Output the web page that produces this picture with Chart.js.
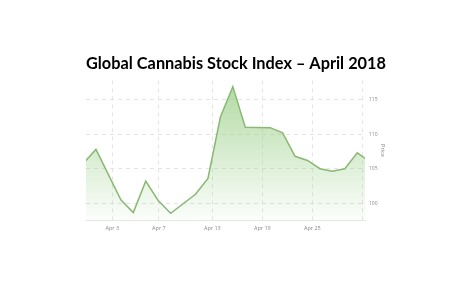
<!DOCTYPE html>
<html lang="en">
<head>
  <meta charset="UTF-8">
  <title>Global Cannabis Stock Index</title>
  <script src="https://cdn.jsdelivr.net/npm/chart.js"></script>
  <style>
    html, body { margin: 0; padding: 0; background: #fff; }
    #wrap { width: 472px; height: 298px; }
  </style>
</head>
<body>
  <div id="wrap"><canvas id="indexChart" width="472" height="298"></canvas></div>

  <script>
    // trading sessions (index along the x axis) and closing index values
    const session = [-1, 0, 2, 3, 4, 5, 6, 8, 9, 10, 11, 12, 14, 15, 16, 17, 18, 19, 20, 21, 22];
    const price = [105.8, 107.8, 100.5, 98.65, 103.2, 100.4, 98.55, 101.3, 103.6, 112.5, 116.9,
                   111.0, 110.95, 110.2, 106.8, 106.2, 105.0, 104.65, 105.0, 107.3, 106.0];

    // date ticks along the bottom (position in sessions)
    const dateTickAt = [1.31, 5.06, 9.35, 13.37, 17.39, 21.41];
    const dateTickLabel = ['Apr 3', 'Apr 7', 'Apr 13', 'Apr 19', 'Apr 25', ''];

    const points = session.map((s, i) => ({ x: s, y: price[i] }));

    new Chart(document.getElementById('indexChart'), {
      type: 'line',
      data: {
        datasets: [{
          label: 'Price',
          data: points,
          borderColor: 'rgb(136,184,116)',
          borderWidth: 1.5,
          pointRadius: 0,
          tension: 0,
          fill: 'start',
          backgroundColor: ctx => {
            const area = ctx.chart.chartArea;
            if (!area) return 'rgba(150,205,130,0.3)';
            const g = ctx.chart.ctx.createLinearGradient(0, area.top, 0, area.bottom);
            g.addColorStop(0, 'rgba(150,205,130,0.75)');
            g.addColorStop(1, 'rgba(150,205,130,0.03)');
            return g;
          }
        }]
      },
      options: {
        responsive: false,
        animation: false,
        layout: { padding: { left: 86, right: 86, top: 0, bottom: 57.5 } },
        plugins: {
          legend: { display: false },
          tooltip: { enabled: false },
          title: {
            display: true,
            text: 'Global Cannabis Stock Index – April 2018',
            color: '#000',
            font: { family: 'Lato', size: 17, weight: 'bold' },
            padding: { top: 53, bottom: 7 }
          }
        },
        scales: {
          x: {
            type: 'linear',
            min: -0.8,
            max: 21.62,
            afterBuildTicks: axis => {
              axis.ticks = dateTickAt.map(v => ({ value: v }));
            },
            afterFit: axis => { axis.height = 20; },
            ticks: {
              autoSkip: false,
              maxRotation: 0,
              padding: 5,
              color: '#888',
              font: { family: 'Open Sans', size: 5.5 },
              callback: (v, i) => dateTickLabel[i]
            },
            grid: {
              drawTicks: false,
              color: '#e4e4e4',
              lineWidth: 1
            },
            border: { display: true, color: '#e6e6e6', dash: [4, 4] }
          },
          y: {
            position: 'right',
            min: 97.5,
            max: 117.8,
            afterFit: axis => { axis.width = 21; },
            ticks: {
              stepSize: 5,
              includeBounds: false,
              padding: 4,
              color: '#888',
              font: { family: 'Open Sans', size: 5 }
            },
            grid: {
              drawTicks: false,
              color: '#e4e4e4',
              lineWidth: 1
            },
            border: { display: false, dash: [4, 4] },
            title: {
              display: true,
              text: 'Price',
              color: '#888',
              padding: 0,
              font: { family: 'Open Sans', size: 5.5 }
            }
          }
        }
      }
    });
  </script>
</body>
</html>
